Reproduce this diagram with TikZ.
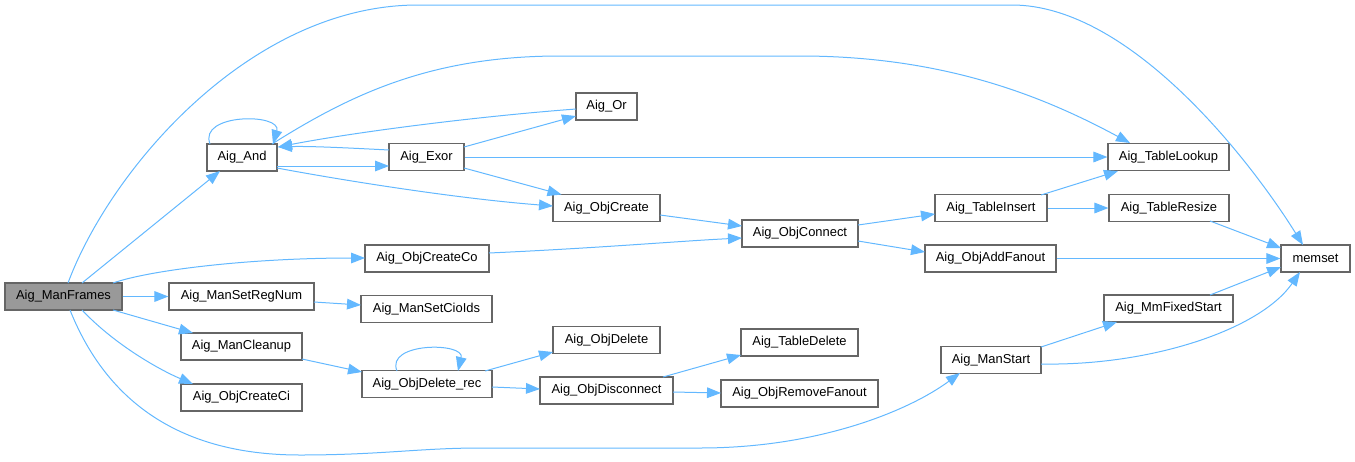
\documentclass[tikz,border=0pt]{standalone}
\usepackage{fontspec}
\setmainfont{Liberation Sans}
\usetikzlibrary{calc,arrows.meta}
\definecolor{edgec}{HTML}{63B8FF}
\definecolor{bordc}{HTML}{666666}
\definecolor{mainc}{HTML}{999999}
\begin{document}
\begin{tikzpicture}[x=0.75pt,y=-0.75pt,
  box/.style={draw=bordc,line width=0.9pt,fill=white,inner sep=0pt,minimum height=20.25pt,font=\fontsize{9.7}{11.5}\selectfont},
  bw/.style={minimum width=#1*0.75pt},
  mainbox/.style={box,fill=mainc},
  edge/.style={draw=edgec,line width=0.75pt,-{Triangle[length=10.5pt,width=8pt]}}]
\useasboundingbox (0,0) rectangle (1355,461);
% nodes
\node[mainbox,bw=117] (mf) at (63.5,296.5) {Aig\_ManFrames};
\node[box,bw=70] (and) at (242,157.5) {Aig\_And};
\node[box,bw=145] (srn) at (241.5,296.5) {Aig\_ManSetRegNum};
\node[box,bw=121] (mc) at (241.5,346.5) {Aig\_ManCleanup};
\node[box,bw=121] (oci) at (241.5,397.5) {Aig\_ObjCreateCi};
\node[box,bw=75] (exor) at (426.5,157) {Aig\_Exor};
\node[box,bw=124] (oco) at (427,258.5) {Aig\_ObjCreateCo};
\node[box,bw=131] (sci) at (426.5,309) {Aig\_ManSetCioIds};
\node[box,bw=130] (odr) at (427,384) {Aig\_ObjDelete\_rec};
\node[box,bw=61] (or) at (606.5,106.5) {Aig\_Or};
\node[box,bw=107] (oc) at (606.5,208) {Aig\_ObjCreate};
\node[box,bw=107] (od) at (606.5,340) {Aig\_ObjDelete};
\node[box,bw=133] (odis) at (606.5,390.5) {Aig\_ObjDisconnect};
\node[box,bw=116] (ocn) at (800,233.5) {Aig\_ObjConnect};
\node[box,bw=117] (td) at (799.5,342.5) {Aig\_TableDelete};
\node[box,bw=157] (orf) at (799.5,393.5) {Aig\_ObjRemoveFanout};
\node[box,bw=112] (ti) at (991,208) {Aig\_TableInsert};
\node[box,bw=131] (oaf) at (990.5,258.5) {Aig\_ObjAddFanout};
\node[box,bw=100] (ms) at (991,360) {Aig\_ManStart};
\node[box,bw=121] (tl) at (1168.5,157) {Aig\_TableLookup};
\node[box,bw=120] (tr) at (1169,208) {Aig\_TableResize};
\node[box,bw=129] (mfs) at (1168.5,308.5) {Aig\_MmFixedStart};
\node[box,bw=69] (mem) at (1315.5,258.5) {memset};
% edges from Aig_ManFrames
\draw[edge] ($(mf)+(4.5,-13.5)$) .. controls (110,170) and (250,5) .. (418,5) -- (1012,5)
  .. controls (1130,5) and (1250,160) .. ($(mem)+(-12.5,-13.5)$);
\draw[edge] ($(mf)+(18.5,-13.5)$) -- ($(and)+(-22,13.5)$);
\draw[edge] ($(mf)+(49.5,-13.5)$) .. controls (150,270) and (250,258) .. ($(oco)+(-62,-0.5)$);
\draw[edge] (mf.east) -- (srn.west);
\draw[edge] ($(mf)+(49.5,13.5)$) -- ($(mc)+(-48.5,-13.5)$);
\draw[edge] ($(mf)+(18.5,13.5)$) .. controls (115,345) and (160,370) .. ($(oci)+(-48.5,-13.5)$);
\draw[edge] ($(mf)+(6.5,13.5)$) .. controls (110,410) and (190,455) .. (300,455)
  .. controls (380,455) and (420,448) .. (480,448) -- (700,448)
  .. controls (820,448) and (910,410) .. ($(ms)+(-31,13)$);
% Aig_And
\draw[edge] ($(and)+(-32,-13.5)$) .. controls (198,113) and (282,113) .. ($(and)+(31,-13.5)$);
\draw[edge] ($(and)+(30,-13.5)$) .. controls (350,95) and (430,56) .. (560,56) -- (800,56)
  .. controls (950,56) and (1050,100) .. ($(tl)+(-38.5,-14)$);
\draw[edge] ($(and)+(35,8.5)$) -- ($(exor)+(-37.5,9)$);
\draw[edge] ($(and)+(35,10.5)$) .. controls (330,178) and (450,198) .. ($(oc)+(-53.5,-2)$);
% Aig_Or, Aig_Exor
\draw[edge] ($(or)+(-30.5,2.5)$) .. controls (470,117) and (350,133) .. ($(and)+(36,-10.5)$);
\draw[edge] ($(exor)+(-37.5,-7)$) .. controls (350,148) and (310,146) .. ($(and)+(36,-10.5)$);
\draw[edge] ($(exor)+(37.5,-10)$) -- ($(or)+(-30.5,9.5)$);
\draw[edge] (exor.east) -- (tl.west);
\draw[edge] ($(exor)+(37.5,11)$) -- ($(oc)+(-45,-13.5)$);
% object creation
\draw[edge] ($(oc)+(53.5,7)$) -- ($(ocn)+(-58,-7.5)$);
\draw[edge] ($(oco)+(62,-5.5)$) .. controls (600,248) and (680,241) .. ($(ocn)+(-58,4.5)$);
\draw[edge] ($(ocn)+(58,-8.5)$) -- ($(ti)+(-56,6)$);
\draw[edge] ($(ocn)+(58,7.5)$) -- ($(oaf)+(-65.5,-6.5)$);
\draw[edge] ($(ti)+(50,-13)$) -- ($(tl)+(-50.5,14)$);
\draw[edge] (ti.east) -- (tr.west);
\draw[edge] ($(tr)+(41,13)$) -- ($(mem)+(-34.5,-10.5)$);
\draw[edge] (oaf.east) -- (mem.west);
\draw[edge] ($(mfs)+(41.5,-13.5)$) -- ($(mem)+(-34.5,8.5)$);
\draw[edge] ($(ms)+(50,-13)$) -- ($(mfs)+(-51.5,13.5)$);
\draw[edge] ($(ms)+(50,4)$) .. controls (1150,366) and (1260,330) .. ($(mem)+(-15.5,13.5)$);
% lower part
\draw[edge] ($(srn)+(72.5,5.5)$) -- ($(sci)+(-65.5,-4)$);
\draw[edge] ($(mc)+(60.5,12.5)$) -- ($(odr)+(-65,-12)$);
\draw[edge] ($(odr)+(-30,-13)$) .. controls (385,342) and (465,342) .. ($(odr)+(31,-13)$);
\draw[edge] ($(odr)+(58,-13)$) -- ($(od)+(-53.5,12)$);
\draw[edge] ($(odr)+(65,3)$) -- ($(odis)+(-66.5,-1.5)$);
\draw[edge] ($(odis)+(56.5,-13.5)$) -- ($(td)+(-58.5,12.5)$);
\draw[edge] ($(odis)+(66.5,1.5)$) -- ($(orf)+(-78.5,-0.5)$);
\end{tikzpicture}
\end{document}
